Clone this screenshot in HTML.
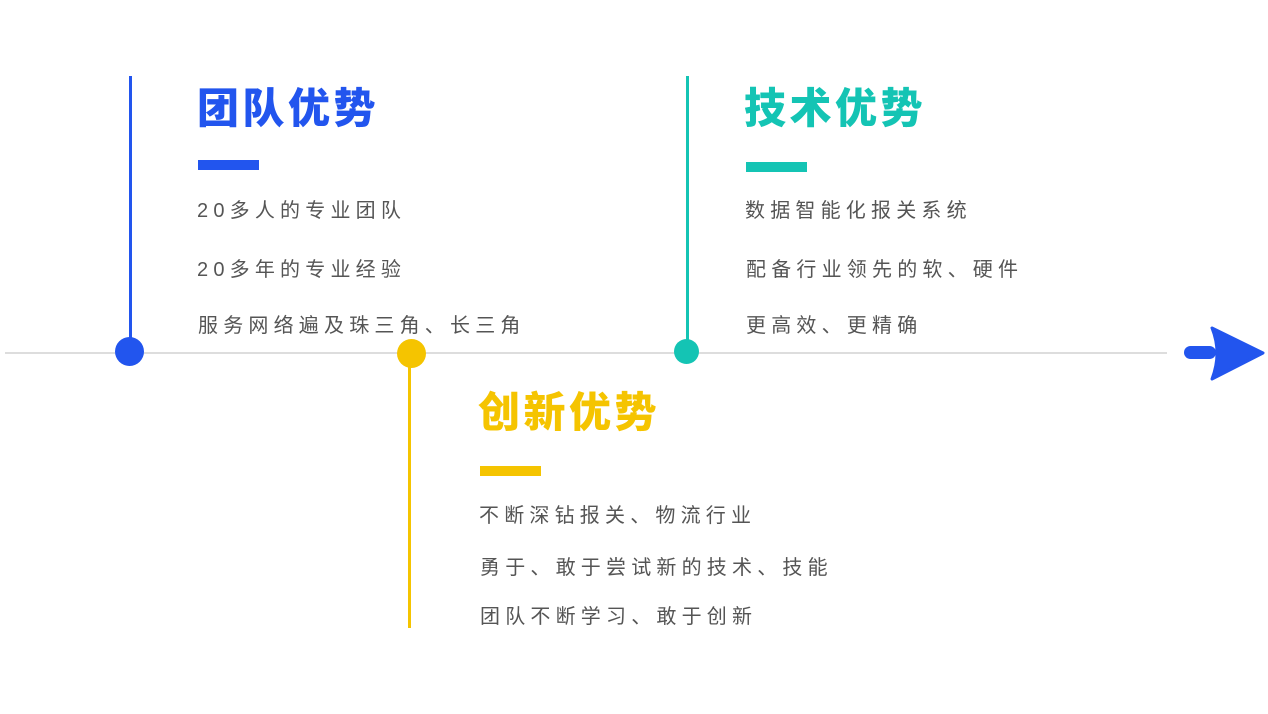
<!DOCTYPE html>
<html><head><meta charset="utf-8"><style>
body{margin:0;width:1268px;height:714px;background:#fff;position:relative;overflow:hidden;font-family:"Liberation Sans","Noto Sans CJK SC",sans-serif}
.a{position:absolute}
.t{position:absolute;font-size:42px;font-weight:900;letter-spacing:3.5px;line-height:42px;white-space:nowrap}
.l{position:absolute;font-size:20px;color:#555;letter-spacing:5.2px;line-height:24px;white-space:nowrap}
</style></head><body>
<div class="a" style="left:5px;top:352px;width:1162px;height:2px;background:#ddd"></div>
<div class="a" style="left:129px;top:76px;width:3px;height:276px;background:#2255ee"></div>
<div class="a" style="left:115px;top:337px;width:29px;height:29px;border-radius:50%;background:#2255ee"></div>
<div class="a" style="left:408px;top:353px;width:3px;height:275px;background:#f5c400"></div>
<div class="a" style="left:397px;top:339px;width:29px;height:29px;border-radius:50%;background:#f5c400"></div>
<div class="a" style="left:686px;top:76px;width:3px;height:275px;background:#14c4b4"></div>
<div class="a" style="left:674px;top:339px;width:25px;height:25px;border-radius:50%;background:#14c4b4"></div>
<svg class="a" style="left:0;top:0" width="1268" height="714"><rect x="1184" y="346" width="32" height="13" rx="6.5" fill="#2255ee"/><path d="M1212 328 L1263 353 L1212 379 Q1222 353 1212 328Z" fill="#2255ee" stroke="#2255ee" stroke-width="3" stroke-linejoin="round"/></svg>

<div class="t" style="left:197px;top:88px;color:#2255ee">团队优势</div>
<div class="a" style="left:198px;top:160px;width:61px;height:10px;background:#2255ee"></div>
<div class="l" style="left:197px;top:199px">20多人的专业团队</div>
<div class="l" style="left:197px;top:258px">20多年的专业经验</div>
<div class="l" style="left:198px;top:314px">服务网络遍及珠三角、长三角</div>

<div class="t" style="left:744px;top:88px;color:#14c4b4">技术优势</div>
<div class="a" style="left:746px;top:162px;width:61px;height:10px;background:#14c4b4"></div>
<div class="l" style="left:745px;top:199px">数据智能化报关系统</div>
<div class="l" style="left:746px;top:258px">配备行业领先的软、硬件</div>
<div class="l" style="left:746px;top:314px">更高效、更精确</div>

<div class="t" style="left:478px;top:392px;color:#f5c400">创新优势</div>
<div class="a" style="left:480px;top:466px;width:61px;height:10px;background:#f5c400"></div>
<div class="l" style="left:479px;top:504px">不断深钻报关、物流行业</div>
<div class="l" style="left:480px;top:556px">勇于、敢于尝试新的技术、技能</div>
<div class="l" style="left:480px;top:605px">团队不断学习、敢于创新</div>
</body></html>
